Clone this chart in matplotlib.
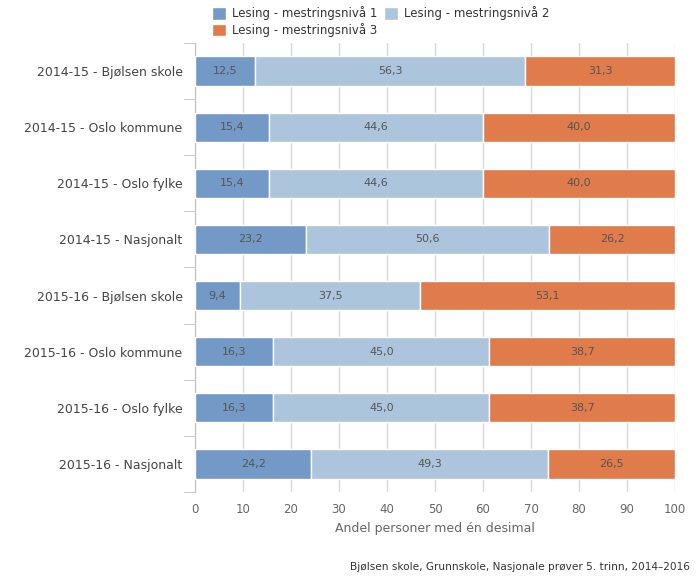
import matplotlib.pyplot as plt
import numpy as np

categories = ["2014-15 - Bjølsen skole", "2014-15 - Oslo kommune", "2014-15 - Oslo fylke",
              "2014-15 - Nasjonalt", "2015-16 - Bjølsen skole", "2015-16 - Oslo kommune",
              "2015-16 - Oslo fylke", "2015-16 - Nasjonalt"]
niva1 = [12.5, 15.4, 15.4, 23.2, 9.4, 16.3, 16.3, 24.2]
niva2 = [56.3, 44.6, 44.6, 50.6, 37.5, 45.0, 45.0, 49.3]
niva3 = [31.3, 40.0, 40.0, 26.2, 53.1, 38.7, 38.7, 26.5]
series_names = ["Lesing - mestringsnivå 1", "Lesing - mestringsnivå 2", "Lesing - mestringsnivå 3"]
colors = ["#7399c6", "#adc5dc", "#e07b4c"]

fig = plt.figure(figsize=(7, 5.88), dpi=100)
ax = fig.add_axes([0.2786, 0.1633, 0.6857, 0.7636])

y = np.arange(len(categories))
left = np.zeros(len(categories))
bars = []
for vals, name, c in zip([niva1, niva2, niva3], series_names, colors):
    b = ax.barh(y, vals, left=left, height=0.52, color=c, edgecolor="white",
                linewidth=1, label=name, zorder=3)
    for yi, l, v in zip(y, left, vals):
        ax.text(l + v / 2, yi, f"{v:.1f}".replace(".", ","), ha="center", va="center",
                fontsize=8, color="#555555", zorder=4)
    bars.append(b)
    left = left + np.array(vals)

ax.set_xlim(0, 100)
ax.set_ylim(len(categories) - 0.5, -0.5)
ax.set_xticks(np.arange(0, 101, 10))
ax.tick_params(axis="x", length=0, labelsize=8.5, labelcolor="#666666", pad=8)
ax.set_yticks(y)
ax.set_yticklabels(categories, fontsize=9, color="#444444")
ax.tick_params(axis="y", length=0, pad=9)
ax.set_yticks(np.arange(-0.5, len(categories), 1), minor=True)
ax.tick_params(axis="y", which="minor", length=8, color="#c0c0c0")
ax.grid(axis="x", color="#d8d8d8", linewidth=1, zorder=0)
for s in ["top", "right", "bottom"]:
    ax.spines[s].set_visible(False)
ax.spines["left"].set_color("#c0c0c0")
ax.set_xlabel("Andel personer med én desimal", fontsize=9, color="#666666", labelpad=4)

fig.legend([bars[0], bars[2], bars[1]], [series_names[0], series_names[2], series_names[1]],
           ncol=2, loc="upper left", bbox_to_anchor=(0.288, 1.007), frameon=False,
           fontsize=8.5, handlelength=1.2, handleheight=1.2, handletextpad=0.45,
           columnspacing=0.6, labelspacing=0.25, labelcolor="#333333")

fig.text(0.985, 0.035, "Bjølsen skole, Grunnskole, Nasjonale prøver 5. trinn, 2014–2016",
         ha="right", va="center", fontsize=7.6, color="#333333")

fig.savefig("out.png", dpi=100)
